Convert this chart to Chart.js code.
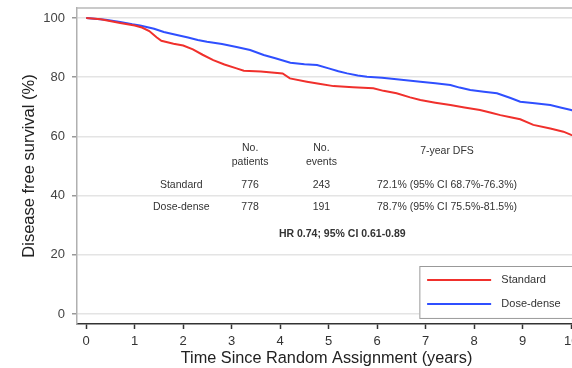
<!DOCTYPE html>
<html>
<head>
<meta charset="utf-8">
<script src="https://cdn.jsdelivr.net/npm/chart.js@4"></script>
<style>
  html, body { margin: 0; padding: 0; background: #fff; overflow: hidden; }
  #wrap { width: 600px; height: 368px; }
</style>
</head>
<body>
<div id="wrap"><canvas id="dfsChart" width="600" height="368"></canvas></div>
<script>
// Kaplan-Meier style disease free survival
const stdTimes = [0, 0.3, 0.7, 1.0, 1.15, 1.3, 1.45, 1.55, 1.8, 2.0, 2.2, 2.4, 2.62, 2.85, 3.1, 3.25, 3.6, 4.05, 4.2, 4.55, 4.8, 5.1, 5.5, 5.92, 6.13, 6.4, 6.68, 6.89, 7.2, 7.51, 7.8, 8.12, 8.35, 8.54, 8.75, 8.95, 9.22, 9.57, 9.84, 10.0, 10.1];
const stdSurv  = [100, 99.6, 98.3, 97.5, 96.8, 95.6, 93.5, 92.3, 91.3, 90.7, 89.4, 87.6, 85.8, 84.3, 83.0, 82.2, 81.9, 81.3, 79.6, 78.5, 77.8, 77.0, 76.6, 76.3, 75.4, 74.6, 73.2, 72.3, 71.4, 70.6, 69.8, 68.9, 68.0, 67.2, 66.5, 65.8, 63.9, 62.7, 61.6, 60.5, 60.0];
const ddTimes  = [0, 0.4, 0.7, 0.95, 1.11, 1.4, 1.6, 1.87, 2.1, 2.3, 2.49, 2.8, 3.1, 3.38, 3.66, 3.9, 4.21, 4.5, 4.76, 5.0, 5.2, 5.38, 5.6, 5.79, 6.1, 6.4, 6.89, 7.2, 7.51, 7.7, 7.92, 8.2, 8.47, 8.75, 8.95, 9.25, 9.57, 9.8, 10.0, 10.1];
const ddSurv   = [100, 99.4, 98.7, 97.9, 97.5, 96.4, 95.3, 94.3, 93.4, 92.6, 92.0, 91.2, 90.2, 89.2, 87.5, 86.4, 84.9, 84.4, 84.1, 83.0, 82.0, 81.3, 80.6, 80.2, 79.8, 79.3, 78.5, 78.0, 77.4, 76.5, 75.7, 75.1, 74.6, 73.0, 71.7, 71.2, 70.6, 69.7, 68.9, 68.4];

const seriesNames = ["Standard", "Dose-dense"];
const xTicks = [0, 1, 2, 3, 4, 5, 6, 7, 8, 9, 10];
const yTicks = [0, 20, 40, 60, 80, 100];

// summary table
const tableHeads = [["No.", "patients"], ["No.", "events"], ["7-year DFS"]];
const nPatients = ["776", "778"];
const nEvents = ["243", "191"];
const dfs7 = ["72.1% (95% CI 68.7%-76.3%)", "78.7% (95% CI 75.5%-81.5%)"];
const hrText = "HR 0.74; 95% CI 0.61-0.89";

const RED = "#f0302c";
const BLUE = "#2f4fff";
const FONT = "'Liberation Sans', Arial, sans-serif";

function toPoints(ts, vs) {
    return ts.map((t, i) => ({x: t, y: vs[i]}));
}

const overlay = {
    id: "overlay",
    afterDraw(chart) {
        const ctx = chart.ctx;
        const xs = chart.scales.x, ys = chart.scales.y;
        const area = chart.chartArea;
        const px = v => xs.getPixelForValue(v);
        const py = v => ys.getPixelForValue(v);
        ctx.save();

        // top frame line
        ctx.strokeStyle = "#b8b8b8";
        ctx.lineWidth = 1.5;
        ctx.beginPath();
        ctx.moveTo(area.left, area.top);
        ctx.lineTo(area.right + 30, area.top);
        ctx.stroke();

        // table
        ctx.fillStyle = "#333";
        ctx.textAlign = "center";
        ctx.textBaseline = "middle";
        ctx.font = "10.5px " + FONT;
        const colX = [3.38, 4.85, 7.44];
        ctx.fillText(tableHeads[0][0], px(colX[0]), py(56.1));
        ctx.fillText(tableHeads[0][1], px(colX[0]), py(51.4));
        ctx.fillText(tableHeads[1][0], px(colX[1]), py(56.1));
        ctx.fillText(tableHeads[1][1], px(colX[1]), py(51.4));
        ctx.fillText(tableHeads[2][0], px(colX[2]), py(55.1));
        const rowY = [43.6, 36.1];
        for (let i = 0; i < 2; i++) {
            ctx.fillText(seriesNames[i], px(1.96), py(rowY[i]));
            ctx.fillText(nPatients[i], px(colX[0]), py(rowY[i]));
            ctx.fillText(nEvents[i], px(colX[1]), py(rowY[i]));
            ctx.fillText(dfs7[i], px(colX[2]), py(rowY[i]));
        }
        ctx.font = "bold 10.5px " + FONT;
        ctx.fillText(hrText, px(5.28), py(27.0));

        // legend box
        const bx = px(6.87), by = py(16.2), bb = py(-1.35);
        ctx.fillStyle = "#fff";
        ctx.fillRect(bx, by, area.right + 40 - bx, bb - by);
        ctx.strokeStyle = "#999";
        ctx.lineWidth = 1;
        ctx.strokeRect(bx + 0.5, by + 0.5, area.right + 40 - bx, bb - by);
        const legY = [11.5, 3.4];
        const cols = [RED, BLUE];
        ctx.font = "11px " + FONT;
        ctx.textAlign = "left";
        for (let i = 0; i < 2; i++) {
            ctx.strokeStyle = cols[i];
            ctx.lineWidth = 2;
            ctx.beginPath();
            ctx.moveTo(px(7.03), py(legY[i]));
            ctx.lineTo(px(8.35), py(legY[i]));
            ctx.stroke();
            ctx.fillStyle = "#333";
            ctx.fillText(seriesNames[i], px(8.56), py(legY[i]));
        }
        ctx.restore();
    }
};

window.onload = function() {
    const ctx = document.getElementById("dfsChart").getContext("2d");
    new Chart(ctx, {
        type: "line",
        data: {
            datasets: [
                {label: seriesNames[0], data: toPoints(stdTimes, stdSurv), borderColor: RED, borderWidth: 2, tension: 0, pointRadius: 0, fill: false},
                {label: seriesNames[1], data: toPoints(ddTimes, ddSurv), borderColor: BLUE, borderWidth: 2, tension: 0, pointRadius: 0, fill: false}
            ]
        },
        options: {
            responsive: false,
            animation: false,
            layout: {padding: {left: 0, top: 8, right: 24, bottom: 0}},
            plugins: {legend: {display: false}, tooltip: {enabled: false}},
            scales: {
                x: {
                    type: "linear",
                    min: -0.19,
                    max: 10.1,
                    afterBuildTicks: s => { s.ticks = xTicks.map(v => ({value: v})); },
                    afterFit: s => { s.height = 44; s.paddingLeft = 0; s.paddingRight = 0; },
                    grid: {drawOnChartArea: false, drawTicks: true, tickLength: 5, tickColor: "#333", tickWidth: 1.5},
                    border: {color: "#333", width: 1.5},
                    ticks: {color: "#333", font: {family: FONT, size: 13}, padding: 5, maxRotation: 0, autoSkip: false},
                    title: {display: true, text: "Time Since Random Assignment (years)", color: "#222", font: {family: FONT, size: 16.3}, padding: {top: 3, bottom: 0}}
                },
                y: {
                    min: -3.4,
                    max: 103.4,
                    afterBuildTicks: s => { s.ticks = yTicks.map(v => ({value: v})); },
                    afterFit: s => { s.width = 77; s.paddingTop = 0; s.paddingBottom = 0; },
                    grid: {color: "#e4e4e4", lineWidth: 1.5, drawTicks: true, tickLength: 5, tickColor: "#999"},
                    border: {color: "#b0b0b0", width: 1.5},
                    ticks: {color: "#444", font: {family: FONT, size: 13}, padding: 7},
                    title: {display: true, text: "Disease free survival (%)", color: "#222", font: {family: FONT, size: 16.5}, padding: {top: 20, bottom: 0}}
                }
            }
        },
        plugins: [overlay]
    });
};
</script>
</body>
</html>
